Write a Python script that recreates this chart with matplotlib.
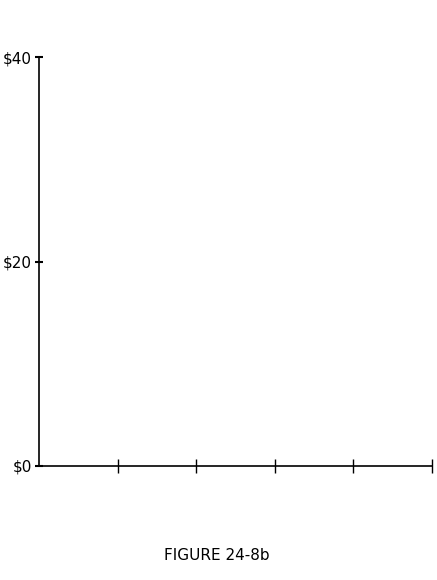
import matplotlib
matplotlib.use('Agg')
import matplotlib.pyplot as plt

plt.rcParams['font.family'] = ['Liberation Sans Narrow', 'DejaVu Sans']

y_ticks = [0, 20, 40]
y_labels = ['$0', '$20', '$40']
x_ticks = [1, 2, 3, 4, 5]

fig = plt.figure(figsize=(4.37, 5.8), dpi=100)
ax = fig.add_axes([39 / 437, 1 - 466 / 580, 393 / 437, 409 / 580])
ax.set_xlim(0, 5)
ax.set_ylim(0, 40)
ax.spines['top'].set_visible(False)
ax.spines['right'].set_visible(False)
ax.spines['left'].set_linewidth(1.2)
ax.spines['bottom'].set_linewidth(1.2)
ax.set_yticks(y_ticks)
ax.set_yticklabels(y_labels, fontsize=11)
ax.set_xticks(x_ticks)
ax.set_xticklabels([])
ax.tick_params(axis='x', direction='inout', length=10, width=1)
ax.tick_params(axis='y', direction='inout', length=6, width=1.5, pad=2)

fig.text(217 / 437, 1 - 556 / 580, 'FIGURE 24-8b', ha='center', va='center', fontsize=11)

fig.savefig('out.png', dpi=100, facecolor='white')
